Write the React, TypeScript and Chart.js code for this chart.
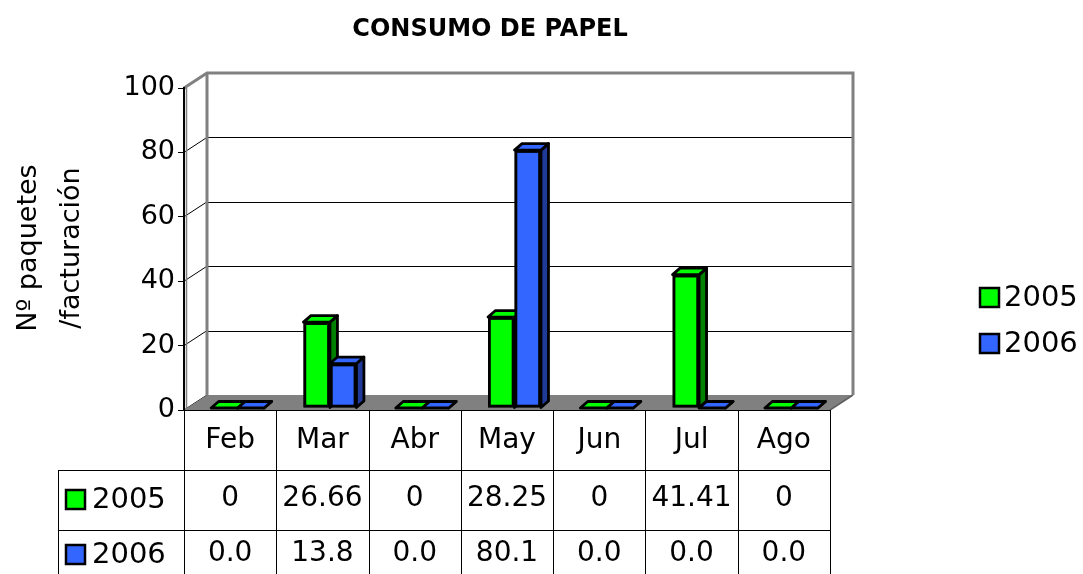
import React, { useEffect, useRef } from 'react';
import { Chart, registerables } from 'chart.js';

Chart.register(...registerables);

// ---------- data ----------
const categories = ['Feb', 'Mar', 'Abr', 'May', 'Jun', 'Jul', 'Ago'];
const seriesNames = ['2005', '2006'];
const values2005 = [0, 26.66, 0, 28.25, 0, 41.41, 0];
const values2006 = [0, 13.8, 0, 80.1, 0, 0, 0];
const tableRow2005 = values2005.map((v) => String(v));
const tableRow2006 = values2006.map((v) => v.toFixed(1));
const yTickValues = [0, 20, 40, 60, 80, 100];
const chartTitle = 'CONSUMO DE PAPEL';
const yTitleLines = ['Nº paquetes', '/facturación'];

// ---------- styles ----------
const FONT = '"DejaVu Sans", "Noto Sans", sans-serif';
const GREEN = '#00FF00';
const GREEN_SIDE = '#008000';
const BLUE = '#3366FF';
const BLUE_SIDE = '#1F3A99';
const WALL_DEPTH = { dx: 23, dy: -15 };
const BAR_SHIFT = { dx: 7.5, dy: -2 };
const BAR_DEPTH = { dx: 7.5, dy: -6.5 };
const BAR_BORDER = 2.8;

const seriesColors = [GREEN, BLUE];
const seriesSides = [GREEN_SIDE, BLUE_SIDE];

function line(ctx: CanvasRenderingContext2D, x1: number, y1: number, x2: number, y2: number) {
  ctx.beginPath();
  ctx.moveTo(x1, y1);
  ctx.lineTo(x2, y2);
  ctx.stroke();
}

function poly(ctx: CanvasRenderingContext2D, pts: number[][], fill: string | null, stroke: string | null, lw = 1) {
  ctx.beginPath();
  ctx.moveTo(pts[0][0], pts[0][1]);
  for (let i = 1; i < pts.length; i++) ctx.lineTo(pts[i][0], pts[i][1]);
  ctx.closePath();
  if (fill) {
    ctx.fillStyle = fill;
    ctx.fill();
  }
  if (stroke) {
    ctx.strokeStyle = stroke;
    ctx.lineWidth = lw;
    ctx.stroke();
  }
}

const threeDPlugin = {
  id: 'threeD',
  beforeDraw(chart: any) {
    const { ctx, chartArea: a, scales } = chart;
    const y = scales.y;
    const L = a.left, R = a.right, T = a.top, B = a.bottom;
    const { dx, dy } = WALL_DEPTH;
    ctx.save();
    ctx.fillStyle = '#fff';
    ctx.fillRect(L + dx, T + dy, R - L, B - T);
    poly(ctx, [[L, T], [L + dx, T + dy], [L + dx, B + dy], [L, B]], '#fff', null);
    ctx.strokeStyle = '#000';
    ctx.lineWidth = 1;
    yTickValues.forEach((v) => {
      if (v === 0 || v === 100) return;
      const py = Math.round(y.getPixelForValue(v) + dy) + 0.5;
      line(ctx, L + dx, py, R + dx, py);
    });
    yTickValues.forEach((v) => {
      if (v === 100) return;
      const py = y.getPixelForValue(v);
      line(ctx, L, py, L + dx, py + dy);
    });
    poly(ctx, [[L, B], [R, B], [R + dx, B + dy], [L + dx, B + dy]], '#808080', null);
    ctx.strokeStyle = '#606060';
    ctx.lineWidth = 1.5;
    line(ctx, R, B, R + dx, B + dy);
    ctx.strokeStyle = '#808080';
    ctx.lineWidth = 3;
    ctx.beginPath();
    ctx.moveTo(L, T);
    ctx.lineTo(L + dx, T + dy);
    ctx.lineTo(R + dx, T + dy);
    ctx.lineTo(R + dx, B + dy);
    ctx.stroke();
    line(ctx, L + dx, T + dy, L + dx, B + dy);
    // soft edge beside the front axis
    ctx.lineWidth = 1.5;
    line(ctx, L + 2.5, T, L + 2.5, B);
    ctx.restore();
  },
  beforeDatasetsDraw(chart: any) {
    chart.ctx.save();
    chart.ctx.translate(BAR_SHIFT.dx, BAR_SHIFT.dy);
  },
  afterDatasetsDraw(chart: any) {
    const ctx = chart.ctx;
    const { dx, dy } = BAR_DEPTH;
    const metas = [chart.getDatasetMeta(0), chart.getDatasetMeta(1)];
    ctx.save();
    ctx.lineJoin = 'round';
    categories.forEach((_, i) => {
      metas.forEach((meta: any, d: number) => {
        const el = meta.data[i];
        if (!el) return;
        const left = el.x - el.width / 2;
        const right = el.x + el.width / 2;
        const top = Math.min(el.y, el.base);
        const bottom = el.base;
        if (bottom - top > 0.5) {
          ctx.fillStyle = '#000';
          ctx.fillRect(left, top, right - left, bottom - top);
          ctx.fillStyle = seriesColors[d];
          ctx.fillRect(left + BAR_BORDER, top + BAR_BORDER, right - left - 2 * BAR_BORDER, bottom - top - 2 * BAR_BORDER);
        }
        poly(ctx, [[right, top], [right + dx, top + dy], [right + dx, bottom + dy], [right, bottom]], seriesSides[d], '#000', BAR_BORDER);
        poly(ctx, [[left, top], [left + dx, top + dy], [right + dx, top + dy], [right, top]], seriesColors[d], '#000', BAR_BORDER);
      });
    });
    ctx.restore();
    chart.ctx.restore();
  },
  afterDraw(chart: any) {
    const { ctx, chartArea: a } = chart;
    const L = a.left, R = a.right, B = a.bottom;
    const H = chart.height;
    const colW = (R - L) / categories.length;
    const row1 = 470, row2 = 530, tableLeft = 58;
    ctx.save();
    ctx.strokeStyle = '#000';
    ctx.lineWidth = 1;
    line(ctx, L, B + 0.5, R, B + 0.5);
    for (let i = 0; i <= categories.length; i++) {
      const x = Math.round(L + i * colW) + 0.5;
      line(ctx, x, B, x, H);
    }
    line(ctx, tableLeft + 0.5, row1, tableLeft + 0.5, H);
    line(ctx, tableLeft, row1 + 0.5, R, row1 + 0.5);
    line(ctx, tableLeft, row2 + 0.5, R, row2 + 0.5);

    ctx.fillStyle = '#000';
    ctx.font = `28px ${FONT}`;
    ctx.textAlign = 'center';
    ctx.textBaseline = 'middle';
    categories.forEach((c, i) => {
      const cx = L + (i + 0.5) * colW;
      ctx.fillText(c, cx, 441);
      ctx.fillText(tableRow2005[i], cx, 499);
      ctx.fillText(tableRow2006[i], cx, 554);
    });
    const rowYs = [499, 554];
    ctx.font = `29px ${FONT}`;
    seriesNames.forEach((name, i) => {
      const cy = rowYs[i];
      ctx.fillStyle = seriesColors[i];
      ctx.fillRect(66, cy - 9, 19, 19);
      ctx.strokeStyle = '#000';
      ctx.lineWidth = 2.5;
      ctx.strokeRect(66, cy - 9, 19, 19);
      ctx.fillStyle = '#000';
      ctx.textAlign = 'left';
      ctx.fillText(name, 92, cy + 1);
    });
    const legYs = [297, 343];
    seriesNames.forEach((name, i) => {
      const cy = legYs[i];
      ctx.fillStyle = seriesColors[i];
      ctx.fillRect(980, cy - 9, 19, 19);
      ctx.strokeStyle = '#000';
      ctx.lineWidth = 2.5;
      ctx.strokeRect(980, cy - 9, 19, 19);
      ctx.fillStyle = '#000';
      ctx.textAlign = 'left';
      ctx.fillText(name, 1004, cy + 1);
    });
    ctx.font = `bold 24px ${FONT}`;
    ctx.textAlign = 'center';
    ctx.fillText(chartTitle, 490, 30);
    ctx.font = `27px ${FONT}`;
    ctx.textBaseline = 'alphabetic';
    const baseXs = [36, 79];
    yTitleLines.forEach((t, i) => {
      ctx.save();
      ctx.translate(baseXs[i], 248);
      ctx.rotate(-Math.PI / 2);
      ctx.fillText(t, 0, 0);
      ctx.restore();
    });
    ctx.restore();
  },
};

export default function App() {
  const ref = useRef<HTMLCanvasElement | null>(null);
  useEffect(() => {
    if (!ref.current) return;
    const chart = new Chart(ref.current, {
      type: 'bar',
      data: {
        labels: categories,
        datasets: [
          {
            label: seriesNames[0],
            data: values2005,
            backgroundColor: GREEN,
            borderColor: '#000',
            borderWidth: BAR_BORDER,
            borderSkipped: false,
          },
          {
            label: seriesNames[1],
            data: values2006,
            backgroundColor: BLUE,
            borderColor: '#000',
            borderWidth: BAR_BORDER,
            borderSkipped: false,
          },
        ],
      },
      options: {
        responsive: false,
        animation: false,
        devicePixelRatio: 1,
        layout: { padding: { left: 0, top: 88, right: 253, bottom: 164 } },
        datasets: { bar: { categoryPercentage: 0.574, barPercentage: 1 } },
        plugins: {
          legend: { display: false },
          title: { display: false },
          tooltip: { enabled: false },
        },
        scales: {
          x: { type: 'category', display: false, offset: true },
          y: {
            min: 0,
            max: 100,
            ticks: {
              stepSize: 20,
              color: '#000',
              padding: 3,
              font: { family: FONT, size: 27 },
            },
            grid: { drawOnChartArea: false, drawTicks: true, tickLength: 6, color: '#000' },
            border: { display: true, color: '#000', width: 2 },
            afterFit: (scale: any) => {
              scale.width = 184;
            },
          },
        },
      },
      plugins: [threeDPlugin],
    } as any);
    return () => chart.destroy();
  }, []);
  return (
    <div style={{ position: 'absolute', left: 0, top: 0, width: 1083, height: 574 }}>
      <canvas ref={ref} width={1083} height={574} style={{ display: 'block' }} />
    </div>
  );
}
